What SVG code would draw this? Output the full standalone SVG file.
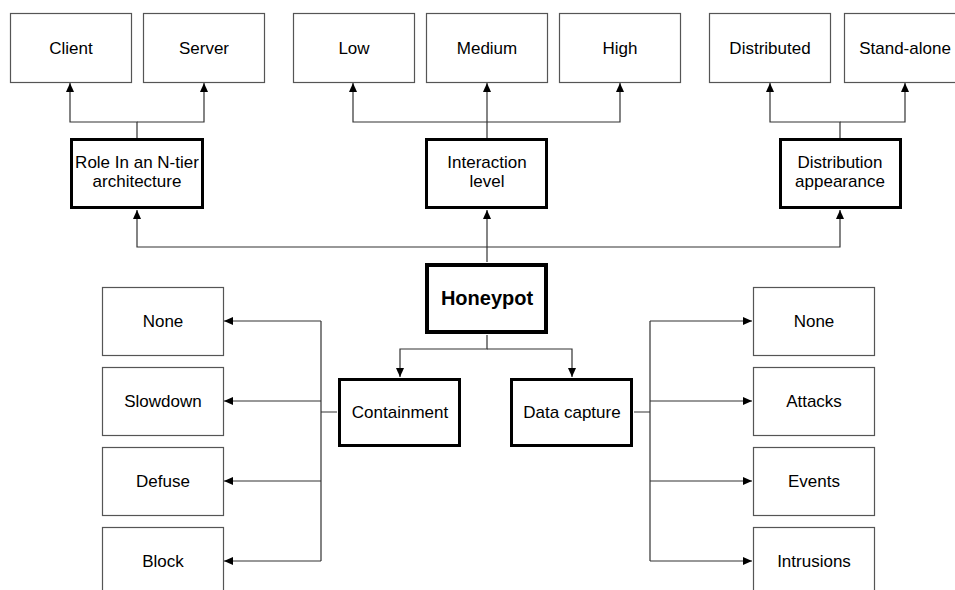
<svg xmlns="http://www.w3.org/2000/svg" width="955" height="590" viewBox="0 0 955 590">
<defs>
<marker id="ah" markerUnits="userSpaceOnUse" markerWidth="9" markerHeight="8" refX="9" refY="4" orient="auto">
<path d="M0,0 L9,4 L0,8 z" fill="#000"/>
</marker>
<style>
.leaf{fill:#fff;stroke:#555;stroke-width:1.2}
.mid{fill:#fff;stroke:#000;stroke-width:3}
.root{fill:#fff;stroke:#000;stroke-width:4}
text{font-family:"Liberation Sans",Arial,sans-serif;font-size:17px;fill:#000;text-anchor:middle}
.b{font-weight:bold;font-size:20px}
.c{fill:none;stroke:#333;stroke-width:1.2}
.a{marker-end:url(#ah)}
</style>
</defs>
<rect width="955" height="590" fill="#fff"/>
<g id="connectors">
<path class="c a" d="M137,138 V122 H70 V83"/>
<path class="c a" d="M137,122 H204 V83"/>
<path class="c a" d="M487,138 V83"/>
<path class="c a" d="M487,122 H353 V83"/>
<path class="c a" d="M487,122 H620 V83"/>
<path class="c a" d="M840,138 V122 H770 V83"/>
<path class="c a" d="M840,122 H905 V83"/>
<path class="c a" d="M487,262 V210"/>
<path class="c a" d="M487,247 H137 V210"/>
<path class="c a" d="M487,247 H840 V210"/>
<path class="c a" d="M487,335 V349 H400 V377"/>
<path class="c a" d="M487,349 H572 V377"/>
<path class="c" d="M337,412 H321 M321,321 V561"/>
<path class="c a" d="M321,321 H224"/>
<path class="c a" d="M321,401 H224"/>
<path class="c a" d="M321,481 H224"/>
<path class="c a" d="M321,561 H224"/>
<path class="c" d="M634,412 H650 M650,321 V561"/>
<path class="c a" d="M650,321 H752"/>
<path class="c a" d="M650,401 H752"/>
<path class="c a" d="M650,481 H752"/>
<path class="c a" d="M650,561 H752"/>
</g>
<g id="client"><rect class="leaf" x="10.5" y="13.5" width="121" height="69"/><text x="71" y="54">Client</text></g>
<g id="server"><rect class="leaf" x="143.5" y="13.5" width="121" height="69"/><text x="204" y="54">Server</text></g>
<g id="low"><rect class="leaf" x="293.5" y="13.5" width="121" height="69"/><text x="354" y="54">Low</text></g>
<g id="medium"><rect class="leaf" x="426.5" y="13.5" width="121" height="69"/><text x="487" y="54">Medium</text></g>
<g id="high"><rect class="leaf" x="559.5" y="13.5" width="121" height="69"/><text x="620" y="54">High</text></g>
<g id="distributed"><rect class="leaf" x="709.5" y="13.5" width="121" height="69"/><text x="770" y="54">Distributed</text></g>
<g id="standalone"><rect class="leaf" x="844.5" y="13.5" width="121" height="69"/><text x="905" y="54">Stand-alone</text></g>
<g id="role"><rect class="mid" x="71.5" y="139.5" width="131" height="68"/><text x="137" y="168">Role In an N-tier</text><text x="137" y="187">architecture</text></g>
<g id="interaction"><rect class="mid" x="426.5" y="139.5" width="120" height="68"/><text x="487" y="168">Interaction</text><text x="487" y="187">level</text></g>
<g id="distribution"><rect class="mid" x="780.5" y="139.5" width="120" height="68"/><text x="840" y="168">Distribution</text><text x="840" y="187">appearance</text></g>
<g id="honeypot"><rect class="root" x="427" y="265" width="119" height="67"/><text class="b" x="487" y="305">Honeypot</text></g>
<g id="containment"><rect class="mid" x="339.5" y="379.5" width="120" height="66"/><text x="400" y="418">Containment</text></g>
<g id="datacapture"><rect class="mid" x="511.5" y="379.5" width="120" height="66"/><text x="572" y="418">Data capture</text></g>
<g id="c-none"><rect class="leaf" x="102.5" y="287.5" width="121" height="68"/><text x="163" y="327">None</text></g>
<g id="c-slowdown"><rect class="leaf" x="102.5" y="367.5" width="121" height="68"/><text x="163" y="407">Slowdown</text></g>
<g id="c-defuse"><rect class="leaf" x="102.5" y="447.5" width="121" height="68"/><text x="163" y="487">Defuse</text></g>
<g id="c-block"><rect class="leaf" x="102.5" y="527.5" width="121" height="68"/><text x="163" y="567">Block</text></g>
<g id="d-none"><rect class="leaf" x="753.5" y="287.5" width="121" height="68"/><text x="814" y="327">None</text></g>
<g id="d-attacks"><rect class="leaf" x="753.5" y="367.5" width="121" height="68"/><text x="814" y="407">Attacks</text></g>
<g id="d-events"><rect class="leaf" x="753.5" y="447.5" width="121" height="68"/><text x="814" y="487">Events</text></g>
<g id="d-intrusions"><rect class="leaf" x="753.5" y="527.5" width="121" height="68"/><text x="814" y="567">Intrusions</text></g>
</svg>
